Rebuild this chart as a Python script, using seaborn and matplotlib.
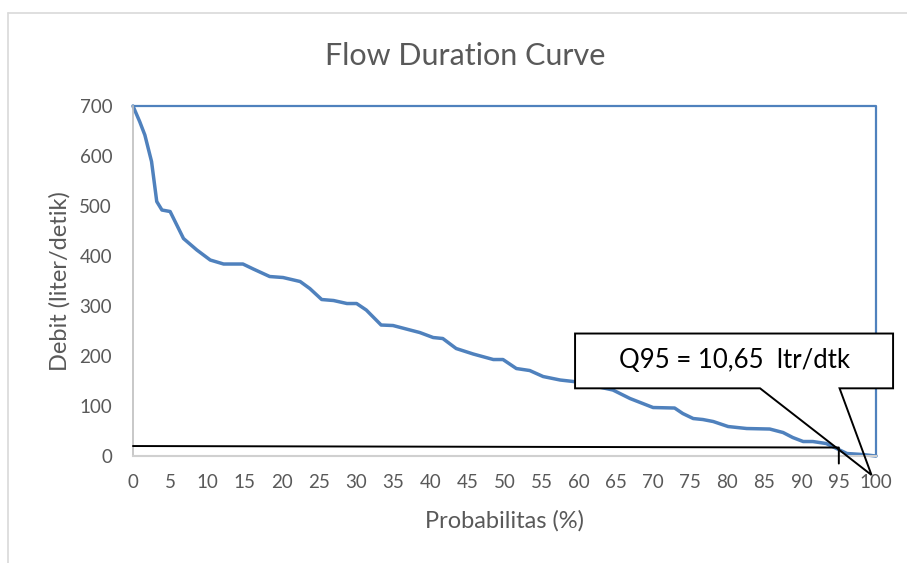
import matplotlib
matplotlib.use("Agg")
import matplotlib.pyplot as plt
import seaborn as sns
from matplotlib.patches import Polygon, Rectangle

# flow duration curve
prob = [0, 0.9, 1.6, 2.5, 3.2, 3.9, 5.0, 6.8, 8.6, 10.4, 12.2, 14.8, 16.2, 18.4,
        20.2, 22.5, 23.8, 25.4, 27.0, 28.8, 30.1, 31.4, 33.4, 35.0, 37.3, 38.6,
        40.4, 41.7, 43.5, 45.8, 48.5, 49.8, 51.6, 53.4, 55.2, 57.5, 59.3, 61.5,
        64.6, 66.9, 70.0, 72.9, 74.0, 75.4, 76.7, 78.1, 80.1, 82.6, 85.7, 87.5,
        88.8, 90.2, 91.5, 93.3, 94.7, 96.1, 98.2, 100]
debit = [700, 669, 642, 589, 509, 492, 489, 435, 412, 392, 384, 384, 374, 359,
         357, 349, 335, 313, 311, 305, 305, 292, 262, 261, 252, 247,
         237, 235, 215, 204, 193, 193, 175, 171, 159, 152, 149, 142,
         132, 115, 97, 96, 85, 75, 73, 69, 59, 55, 54, 47,
         37, 29, 29, 25, 15, 5, 3, 0]

# second series: closing frame at top and right
frame_x = [100, 100, 0]
frame_y = [0, 700, 700]

# Q95 marker line
q95_x = [0, 95, 95]
q95_y = [20, 17, -15]

x_ticks = list(range(0, 101, 5))
y_ticks = list(range(0, 701, 100))
label = "Q95 = 10,65  ltr/dtk"

sns.set_style("white")
plt.rcParams['font.family'] = ['Lato', 'DejaVu Sans']
grey = '#595959'
blue = '#4f81bd'

fig = plt.figure(figsize=(9.07, 5.63), dpi=100)
ax = fig.add_axes([0.1466, 0.1900, 0.8192, 0.6217])

sns.lineplot(x=prob, y=debit, ax=ax, color=blue, linewidth=2.5,
             sort=False, estimator=None)
sns.lineplot(x=frame_x, y=frame_y, ax=ax, color=blue, linewidth=1.6,
             sort=False, estimator=None)
for ln in ax.lines:
    ln.set_clip_on(False)
ax.plot(q95_x, q95_y, color='black', linewidth=1.4, clip_on=False, zorder=4)

ax.set_xlim(0, 100)
ax.set_ylim(0, 700)
ax.set_xticks(x_ticks)
ax.set_yticks(y_ticks)
ax.tick_params(length=0, labelsize=13.5, labelcolor=grey)
ax.tick_params(axis='x', pad=13)
ax.tick_params(axis='y', pad=15)
for s in ['top', 'right']:
    ax.spines[s].set_visible(False)
ax.spines['left'].set_color('#bfbfbf')
ax.spines['bottom'].set_color('#d0d0d0')
ax.spines['left'].set_linewidth(1.2)
ax.spines['bottom'].set_linewidth(1.5)

ax.set_xlabel('Probabilitas (%)', fontsize=17, color=grey, labelpad=14)
ax.set_ylabel('Debit (liter/detik)', fontsize=17, color=grey, labelpad=6)
fig.text(465 / 907, 1 - 56 / 563, 'Flow Duration Curve',
         fontsize=22, color=grey, ha='center', va='center')

# callout box
x0, x1, y0, y1 = 59.5, 102.3, 135.4, 245
ax.add_patch(Rectangle((x0, y0), x1 - x0, y1 - y0, facecolor='white',
                       edgecolor='none', clip_on=False, zorder=5))
outline = [(x0, y1), (x1, y1), (x1, y0), (95.1, y0), (99.4, -38),
           (84.4, y0), (x0, y0)]
ax.add_patch(Polygon(outline, closed=True, fill=False, edgecolor='black',
                     linewidth=1.4, clip_on=False, zorder=6))
ax.text((x0 + x1) / 2, (y0 + y1) / 2, label, fontsize=18.5, color='black',
        ha='center', va='center', zorder=7)

# light chart frame
fig.add_artist(plt.Line2D([7.5 / 907, 1], [1 - 12.5 / 563, 1 - 12.5 / 563],
                          color='#d9d9d9', linewidth=1.2))
fig.add_artist(plt.Line2D([7.5 / 907, 7.5 / 907], [0, 1 - 12.5 / 563],
                          color='#d9d9d9', linewidth=1.2))

fig.savefig('out.png', dpi=100)
